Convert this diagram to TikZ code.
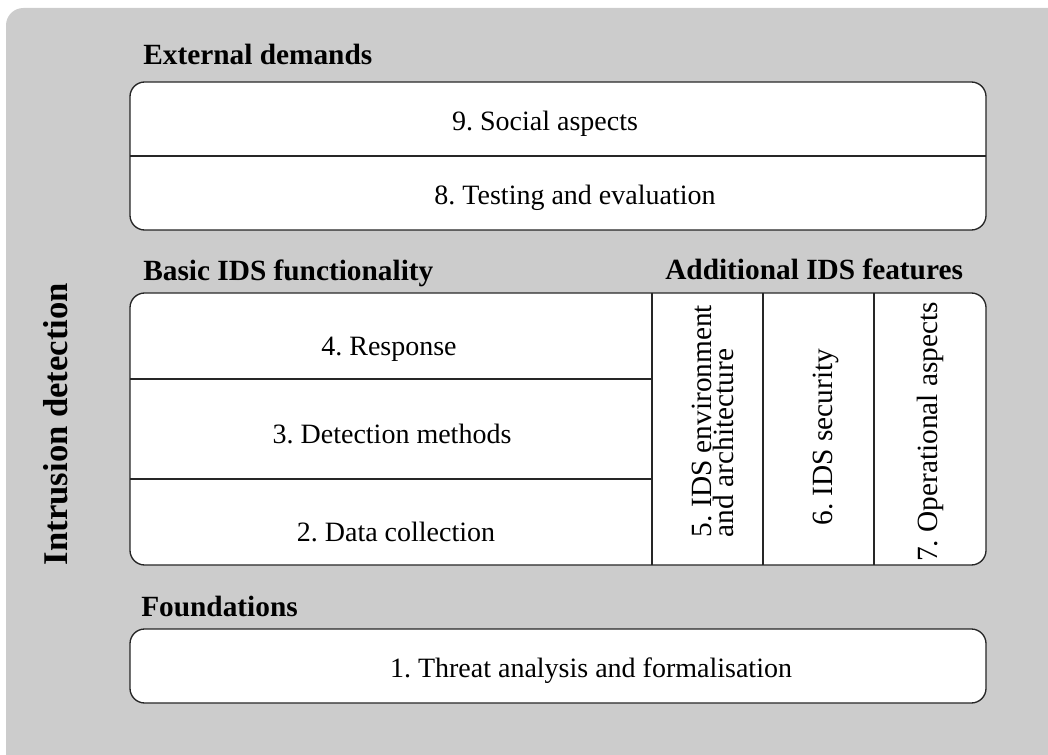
\documentclass[tikz,border=0pt]{standalone}
\usepackage{fontspec}
\setmainfont{Liberation Serif}
\frenchspacing
\definecolor{panelgray}{HTML}{CCCCCC}

\begin{document}
\begin{tikzpicture}[x=0.75pt, y=-0.75pt,
    frame/.style={draw=black!85, line width=1pt, fill=white, rounded corners=11pt},
    part/.style={draw=black!85, line width=1pt},
    item/.style={inner sep=0pt, anchor=base, font=\fontsize{21}{15}\selectfont},
    upright/.style={item, rotate=90, font=\fontsize{22}{15.5}\selectfont},
    head/.style={inner sep=0pt, anchor=base west, font=\fontsize{22}{26}\selectfont\bfseries}]
    \useasboundingbox (0,0) rectangle (1048,755);
    \fill[panelgray, rounded corners=13pt] (6,8) rectangle (1090,800);
    \node[rotate=90, anchor=base, inner sep=0pt, font=\fontsize{26}{30}\selectfont\bfseries] (title) at (67,424) {Intrusion detection};

    % external demands
    \node[head] (external) at (143,65) {External demands};
    \draw[frame] (130,82) rectangle (986,230);
    \draw[part] (130,156) -- (986,156);
    \node[item] (social) at (545,131) {9. Social aspects};
    \node[item] (testing) at (575,205) {8. Testing and evaluation};

    % basic functionality and additional features
    \node[head] (basic) at (143,281) {Basic IDS functionality};
    \node[head] (additional) at (665,280) {Additional IDS features};
    \draw[frame] (130,293) rectangle (986,565);
    \draw[part] (130,379) -- (652,379);
    \draw[part] (130,479) -- (652,479);
    \draw[part] (652,293) -- (652,565);
    \draw[part] (763,293) -- (763,565);
    \draw[part] (874,293) -- (874,565);
    \node[item] (response) at (389,355) {4. Response};
    \node[item] (detection) at (392,443) {3. Detection methods};
    \node[item] (collection) at (396,541) {2. Data collection};
    \node[upright, anchor=center, align=left] (environment) at (713,421) {5. IDS environment\\and architecture};
    \node[upright] (security) at (832,437) {6. IDS security};
    \node[upright] (operational) at (937,432) {7. Operational aspects};

    % foundations
    \node[head] (foundations) at (141,616) {Foundations};
    \draw[frame] (130,629) rectangle (986,703);
    \node[item] (threat) at (591,677) {1. Threat analysis and formalisation};
\end{tikzpicture}
\end{document}
